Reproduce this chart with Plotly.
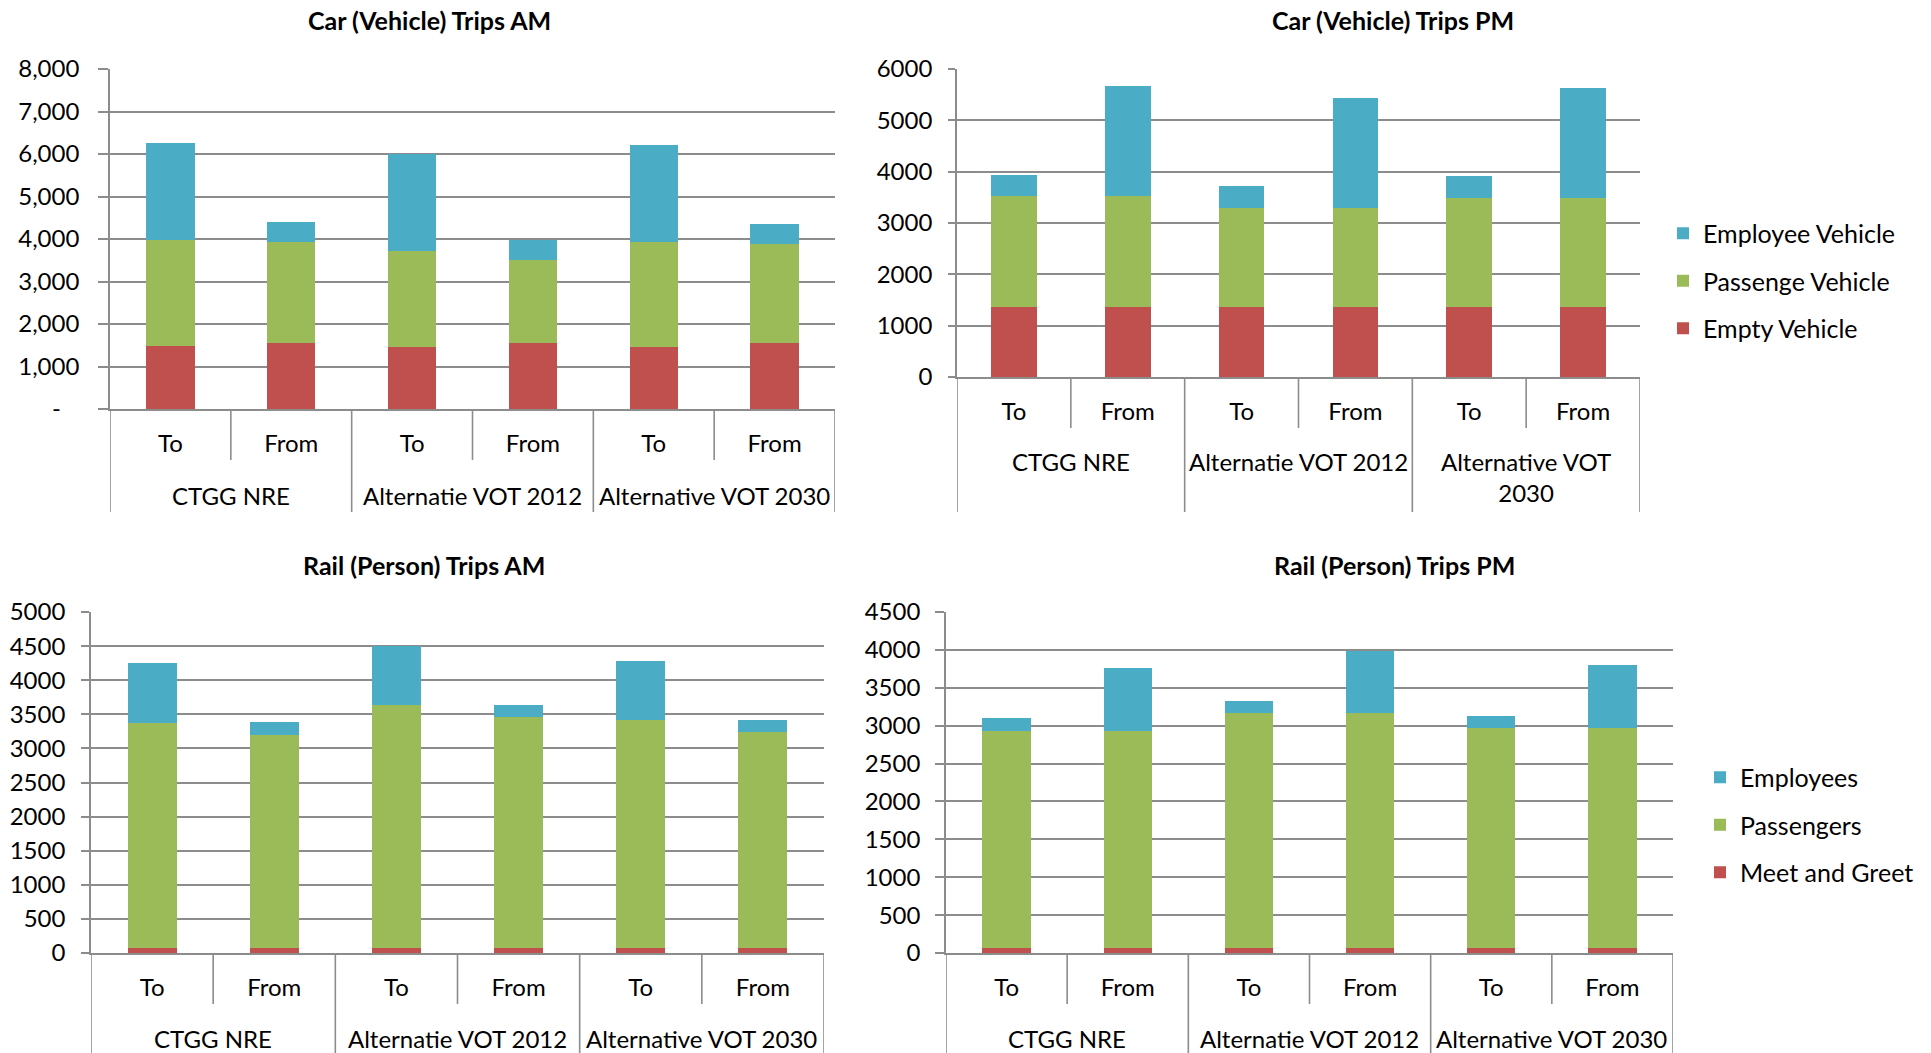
import plotly.graph_objects as go

W, H = 1931, 1053

# ---------------- data ----------------
subs = ["To", "From", "To", "From", "To", "From"]
groups = ["CTGG NRE", "Alternatie VOT 2012", "Alternative VOT 2030"]
groups_car_pm = ["CTGG NRE", "Alternatie VOT 2012", "Alternative VOT<br>2030"]

car_series = ["Empty Vehicle", "Passenge Vehicle", "Employee Vehicle"]
rail_series = ["Meet and Greet", "Passengers", "Employees"]

car_am_empty = [1490, 1560, 1470, 1560, 1470, 1560]
car_am_passenger = [2480, 2360, 2250, 1940, 2470, 2330]
car_am_employee = [2280, 470, 2280, 485, 2280, 470]

car_pm_empty = [1370, 1360, 1360, 1360, 1360, 1360]
car_pm_passenger = [2155, 2165, 1930, 1930, 2130, 2130]
car_pm_employee = [415, 2135, 430, 2145, 430, 2145]

rail_am_meet = [70, 70, 70, 70, 70, 70]
rail_am_passengers = [3300, 3125, 3565, 3390, 3340, 3170]
rail_am_employees = [875, 185, 870, 170, 875, 180]

rail_pm_meet = [65, 65, 65, 65, 65, 65]
rail_pm_passengers = [2865, 2870, 3100, 3100, 2900, 2905]
rail_pm_employees = [165, 825, 165, 825, 165, 825]

car_am_tickvals = [0, 1000, 2000, 3000, 4000, 5000, 6000, 7000, 8000]
car_am_ticktext = ["-\u00a0\u00a0\u00a0", "1,000", "2,000", "3,000", "4,000",
                   "5,000", "6,000", "7,000", "8,000"]
car_pm_tickvals = [0, 1000, 2000, 3000, 4000, 5000, 6000]
car_pm_ticktext = ["0", "1000", "2000", "3000", "4000", "5000", "6000"]
rail_am_tickvals = [0, 500, 1000, 1500, 2000, 2500, 3000, 3500, 4000, 4500, 5000]
rail_am_ticktext = ["0", "500", "1000", "1500", "2000", "2500", "3000",
                    "3500", "4000", "4500", "5000"]
rail_pm_tickvals = [0, 500, 1000, 1500, 2000, 2500, 3000, 3500, 4000, 4500]
rail_pm_ticktext = ["0", "500", "1000", "1500", "2000", "2500", "3000",
                    "3500", "4000", "4500"]

titles = ["Car (Vehicle) Trips AM", "Car (Vehicle) Trips PM",
          "Rail (Person) Trips AM", "Rail (Person) Trips PM"]

COLORS = ["#C0504D", "#9BBB59", "#4BACC6"]
GRID = "#8C8C8C"
FONT = "Lato"
TXT = "#000000"
FS = 24


def px(x):
    return x / W


def py(y):
    return 1 - y / H


panels = [
    dict(title=titles[0], series=car_series,
         values=[car_am_empty, car_am_passenger, car_am_employee],
         tickvals=car_am_tickvals, ticktext=car_am_ticktext, groups=groups,
         left=110, right=835, top=69, bottom=409, tx=429, ty=20,
         sub_y=444, grp_y=497, short_end=460, long_end=512,
         ticklen=10, ygap=30, legend=None),
    dict(title=titles[1], series=car_series,
         values=[car_pm_empty, car_pm_passenger, car_pm_employee],
         tickvals=car_pm_tickvals, ticktext=car_pm_ticktext, groups=groups_car_pm,
         left=957, right=1640, top=69, bottom=377, tx=1393, ty=20,
         sub_y=412, grp_y=463, short_end=428, long_end=512,
         ticklen=7, ygap=24, legend="legend"),
    dict(title=titles[2], series=rail_series,
         values=[rail_am_meet, rail_am_passengers, rail_am_employees],
         tickvals=rail_am_tickvals, ticktext=rail_am_ticktext, groups=groups,
         left=91, right=824, top=612, bottom=953, tx=424, ty=565,
         sub_y=988, grp_y=1040, short_end=1004, long_end=1053,
         ticklen=8, ygap=25, legend=None),
    dict(title=titles[3], series=rail_series,
         values=[rail_pm_meet, rail_pm_passengers, rail_pm_employees],
         tickvals=rail_pm_tickvals, ticktext=rail_pm_ticktext, groups=groups,
         left=946, right=1673, top=612, bottom=953, tx=1394, ty=565,
         sub_y=988, grp_y=1040, short_end=1004, long_end=1053,
         ticklen=9, ygap=25, legend="legend2"),
]

fig = go.Figure()
annotations = []
shapes = []
layout_axes = {}

positions = list(range(len(subs)))

for i, p in enumerate(panels):
    n = "" if i == 0 else str(i + 1)
    xa, ya = "x" + n, "y" + n
    for s, (name, vals) in enumerate(zip(p["series"], p["values"])):
        tr = dict(
            x=positions, y=vals, name=name,
            marker=dict(color=COLORS[s], line=dict(width=0)),
            xaxis=xa, yaxis=ya, showlegend=p["legend"] is not None,
            legendgroup=f"{name}-{i}", legendrank=100 - s,
            hoverinfo="y+name",
        )
        if p["legend"] is not None:
            tr["legend"] = p["legend"]
        fig.add_trace(go.Bar(**tr))

    ymax = p["tickvals"][-1]
    layout_axes["xaxis" + n] = dict(
        domain=[px(p["left"]), px(p["right"])], anchor=ya, automargin=False,
        range=[-0.5, len(subs) - 0.5], tickvals=positions, ticktext=subs,
        showgrid=False, zeroline=False, showline=True, linecolor=GRID,
        linewidth=1.6, ticks="", ticklabelstandoff=p["sub_y"] - p["bottom"] - 23,
        tickfont=dict(family=FONT, size=FS, color=TXT), fixedrange=True,
    )
    layout_axes["yaxis" + n] = dict(
        domain=[py(p["bottom"]), py(p["top"])], anchor=xa, automargin=False,
        range=[0, ymax], tickvals=p["tickvals"], ticktext=p["ticktext"],
        showgrid=True, gridcolor=GRID, gridwidth=1.6, zeroline=False,
        showline=True, linecolor=GRID, linewidth=1.6,
        ticks="outside", ticklen=p["ticklen"], tickcolor=GRID, tickwidth=1.6,
        ticklabelstandoff=p["ygap"] - p["ticklen"] - 6,
        tickfont=dict(family=FONT, size=FS, color=TXT), fixedrange=True,
    )

    annotations.append(dict(
        text="<b>" + p["title"] + "</b>", x=px(p["tx"]), y=py(p["ty"]),
        xref="paper", yref="paper", xanchor="center", yanchor="middle",
        showarrow=False, font=dict(family=FONT, size=25, color=TXT)))

    for g, gname in enumerate(p["groups"]):
        annotations.append(dict(
            text=gname, x=2 * g + 0.5, y=py(p["grp_y"] - 18),
            xref=xa, yref="paper", xanchor="center", yanchor="top",
            showarrow=False, font=dict(family=FONT, size=FS, color=TXT)))

    for k in range(len(subs) + 1):
        xk = k - 0.5
        end = p["long_end"] if k % 2 == 0 else p["short_end"]
        shapes.append(dict(
            type="line", xref=xa, yref="paper", x0=xk, x1=xk,
            y0=py(p["bottom"]), y1=py(end),
            line=dict(color=GRID, width=1.6)))

fig.update_layout(
    template="none",
    width=W, height=H, margin=dict(l=0, r=0, t=0, b=0, pad=0, autoexpand=False),
    paper_bgcolor="white", plot_bgcolor="white",
    barmode="stack", bargap=0.6,
    font=dict(family=FONT, size=FS, color=TXT),
    annotations=annotations, shapes=shapes,
    legend=dict(x=px(1663), y=py(281), xanchor="left", yanchor="middle",
                tracegroupgap=12,
                font=dict(family=FONT, size=25, color=TXT),
                bgcolor="rgba(0,0,0,0)"),
    legend2=dict(x=px(1700), y=py(825), xanchor="left", yanchor="middle",
                 tracegroupgap=12,
                 font=dict(family=FONT, size=25, color=TXT),
                 bgcolor="rgba(0,0,0,0)"),
    **layout_axes,
)

fig.write_html(
    "out.html",
    config={"displayModeBar": False},
    post_script="document.documentElement.style.margin='0';"
                "document.body.style.margin='0';"
                "document.documentElement.style.overflow='hidden';",
)
